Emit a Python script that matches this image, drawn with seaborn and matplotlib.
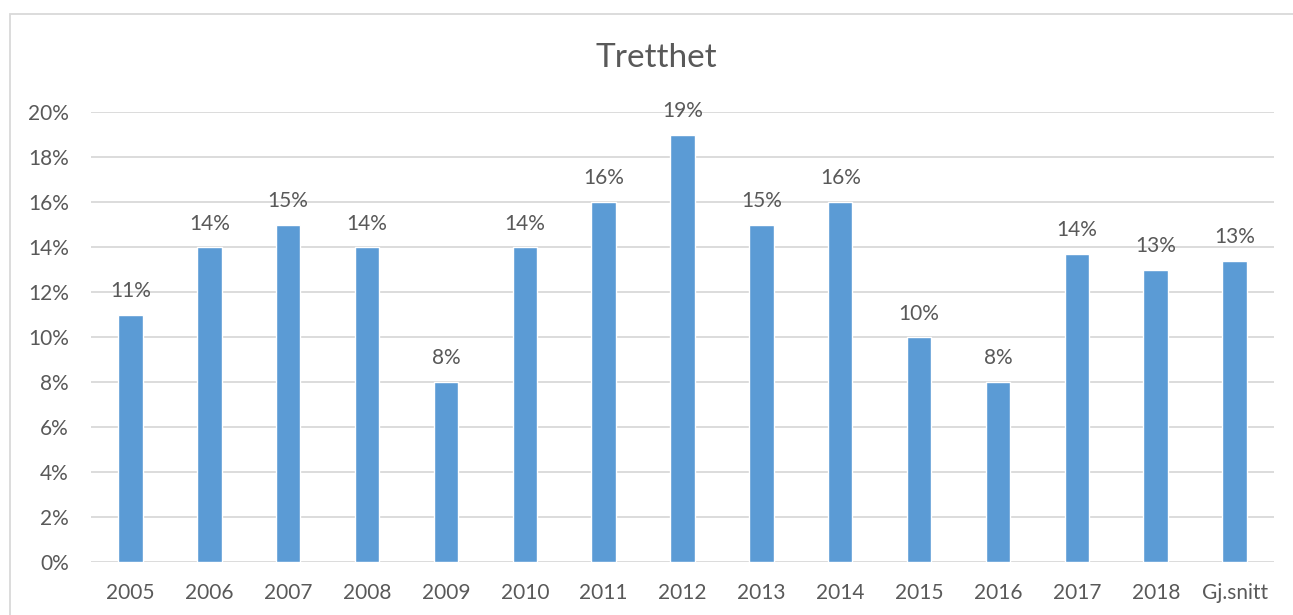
import pandas as pd
import matplotlib.pyplot as plt
import seaborn as sns
from matplotlib.patches import Rectangle
from matplotlib.ticker import PercentFormatter

# Data
kategorier = ['2005', '2006', '2007', '2008', '2009', '2010', '2011', '2012',
              '2013', '2014', '2015', '2016', '2017', '2018', 'Gj.snitt']
andel = [11, 14, 15, 14, 8, 14, 16, 19, 15, 16, 10, 8, 13.7, 13, 13.4]

df = pd.DataFrame({'kategori': kategorier, 'andel': andel})

sns.set_theme(style='white')
plt.rcParams['font.family'] = ['Lato', 'DejaVu Sans']

tekstfarge = '#595959'
fig = plt.figure(figsize=(12.93, 6.15), dpi=100)
ax = fig.add_axes([91 / 1293, 1 - 562 / 615, (1274 - 91) / 1293, (562 - 112) / 615])

sns.barplot(data=df, x='kategori', y='andel', color='#5B9BD5', width=0.31,
            saturation=1, ax=ax, zorder=3)

ax.set_ylim(0, 20)
ax.set_yticks(range(0, 21, 2))
ax.yaxis.set_major_formatter(PercentFormatter(decimals=0))
ax.grid(axis='y', color='#D9D9D9', linewidth=1.3, zorder=0)
ax.set_axisbelow(True)
for s in ax.spines.values():
    s.set_visible(False)
ax.set_xlabel('')
ax.set_ylabel('')
ax.tick_params(axis='both', length=0, labelsize=15, colors=tekstfarge)
ax.tick_params(axis='x', pad=15)
ax.tick_params(axis='y', pad=16)

# Dataetiketter over stolpene
for i, v in enumerate(andel):
    ax.text(i, v + 0.6, f'{v:.0f}%', ha='center', va='bottom',
            fontsize=15, color=tekstfarge)

fig.text(656 / 1293, 1 - 58 / 615, 'Tretthet', ha='center', va='center',
         fontsize=24, color=tekstfarge)

# Diagramramme
fig.patches.append(Rectangle((10 / 1293, -0.1), 1.2, 1 - 14 / 615 + 0.1,
                             transform=fig.transFigure, fill=False,
                             edgecolor='#D9D9D9', linewidth=1.3))

fig.savefig('out.png', dpi=100)
